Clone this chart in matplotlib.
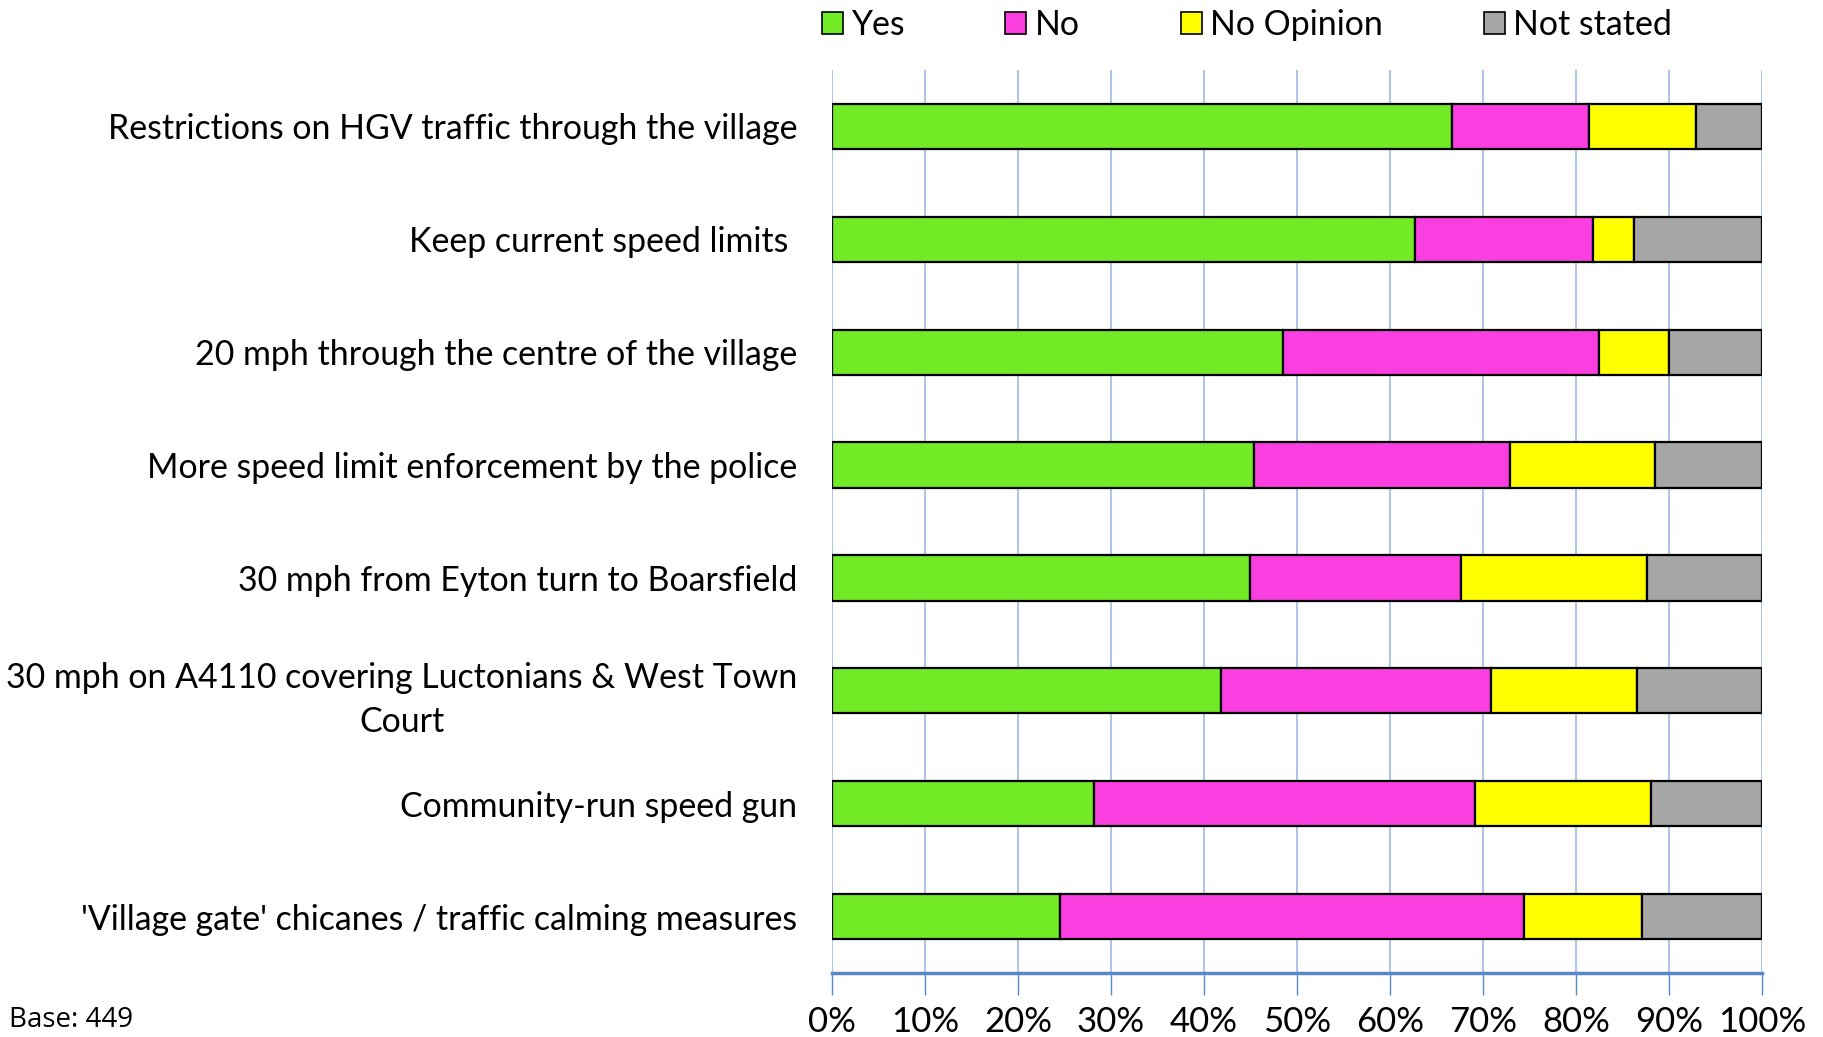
import numpy as np
import matplotlib.pyplot as plt
from matplotlib.patches import Patch

# statements, top to bottom as drawn
labels = [
    "Restrictions on HGV traffic through the village",
    "Keep current speed limits ",
    "20 mph through the centre of the village",
    "More speed limit enforcement by the police",
    "30 mph from Eyton turn to Boarsfield",
    "30 mph on A4110 covering Luctonians & West Town\nCourt",
    "Community-run speed gun",
    "'Village gate' chicanes / traffic calming measures",
]

# percentages
yes = [66.7, 62.7, 48.5, 45.4, 44.9, 41.8, 28.2, 24.5]
no = [14.7, 19.1, 34.0, 27.5, 22.7, 29.1, 40.9, 49.9]
no_opinion = [11.5, 4.4, 7.5, 15.6, 20.0, 15.6, 19.0, 12.7]
not_stated = [7.1, 13.8, 10.0, 11.5, 12.4, 13.5, 11.9, 12.9]

series = ["Yes", "No", "No Opinion", "Not stated"]
colors = ["#72EA26", "#FA3EE0", "#FFFF00", "#A6A6A6"]

xticks = [0, 10, 20, 30, 40, 50, 60, 70, 80, 90, 100]

plt.rcParams['font.family'] = ['Lato', 'DejaVu Sans']

fig = plt.figure(figsize=(18.23, 10.37), dpi=100)
ax = fig.add_axes([0.4564, 0.0617, 0.5102, 0.8708])

y = np.arange(len(labels))
left = np.zeros(len(labels))
for name, vals, c in zip(series, [yes, no, no_opinion, not_stated], colors):
    vals = np.array(vals)
    ax.barh(y, vals, left=left, height=0.4, color=c, edgecolor='black',
            linewidth=1.6, label=name, zorder=3)
    left = left + vals

ax.set_ylim(len(labels) - 0.5, -0.5)
ax.set_xlim(0, 100)
ax.set_xticks(xticks)
ax.set_xticklabels([f"{t}%" for t in xticks], fontsize=25)
ax.set_yticks(y)
ax.set_yticklabels(labels, fontsize=24.4)
for t in ax.get_yticklabels():
    t.set_multialignment('center')
    t.set_linespacing(1.45)
ax.tick_params(axis='y', length=0, pad=25)
ax.tick_params(axis='x', length=16, width=1, color='#5B87C7', pad=8)

ax.grid(axis='x', color='#A6BEE8', linewidth=1.3, zorder=0)
for s in ['top', 'right', 'left']:
    ax.spines[s].set_visible(False)
ax.spines['bottom'].set_color('#5B87C7')
ax.spines['bottom'].set_linewidth(2.5)

handles = [Patch(facecolor=c, edgecolor='black', linewidth=1.2) for c in colors]
fig.legend(handles, series, loc='center left', bbox_to_anchor=(0.434, 0.976),
           ncol=4, frameon=False, fontsize=24.4, handlelength=0.62, handleheight=0.62,
           handletextpad=0.25, columnspacing=2.97)

fig.text(0.005, 0.016, "Base: 449", fontsize=20, family=['Open Sans', 'DejaVu Sans'],
         va='center', ha='left')

fig.savefig("out.png", dpi=100)
